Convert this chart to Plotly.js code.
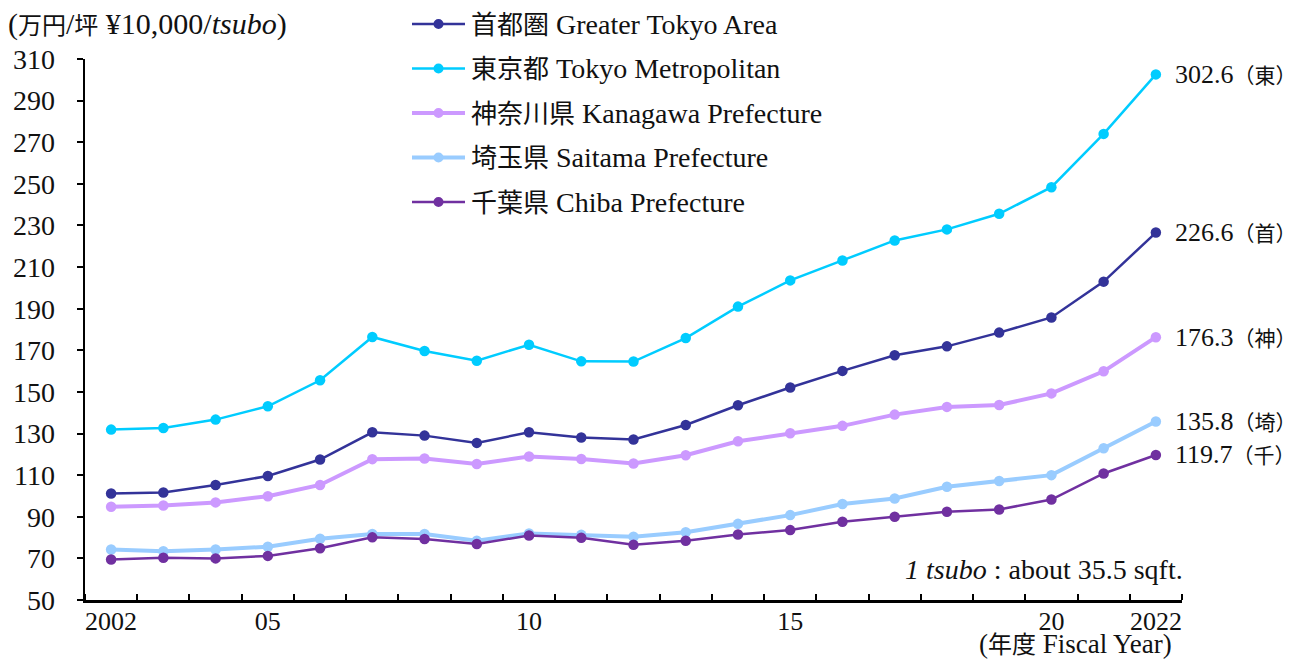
<!DOCTYPE html>
<html>
<head>
<meta charset="utf-8">
<script src="https://cdn.plot.ly/plotly-3.0.1.min.js"></script>
<style>html,body{margin:0;padding:0;background:#fff;}#chart{width:1298px;height:661px;}</style>
</head>
<body>
<div id="chart"></div>
<script>
const years = [2002,2003,2004,2005,2006,2007,2008,2009,2010,2011,2012,2013,2014,2015,2016,2017,2018,2019,2020,2021,2022];
const greaterTokyo = [101.2,101.7,105.3,109.6,117.5,130.6,129.0,125.5,130.6,128.1,127.1,134.1,143.6,152.1,160.1,167.6,171.9,178.5,185.8,203.0,226.6];
const tokyoMetro = [131.9,132.7,136.7,143.1,155.6,176.4,169.7,165.0,172.7,164.7,164.6,175.9,191.0,203.6,213.2,222.8,228.1,235.6,248.4,274.0,302.6];
const kanagawa = [94.8,95.4,96.9,99.9,105.3,117.7,118.0,115.4,119.0,117.8,115.6,119.6,126.3,130.1,133.7,139.1,142.8,143.7,149.3,159.9,176.3];
const saitama = [74.3,73.4,74.3,75.6,79.4,81.7,81.7,78.5,82.0,81.3,80.4,82.6,86.6,90.8,96.1,98.8,104.4,107.2,110.0,122.9,135.8];
const chiba = [69.5,70.3,70.0,71.2,74.9,80.1,79.3,76.9,81.0,79.9,76.5,78.5,81.5,83.6,87.6,90.0,92.4,93.5,98.3,110.8,119.7];

const seriesJa = ['首都圏','東京都','神奈川県','埼玉県','千葉県'];
const seriesEn = ['Greater Tokyo Area','Tokyo Metropolitan','Kanagawa Prefecture','Saitama Prefecture','Chiba Prefecture'];
const endTags = ['（首）','（東）','（神）','（埼）','（千）'];
const xTickVals = [2002,2005,2010,2015,2020,2022];
const xTickText = ['2002','05','10','15','20','2022'];

const FONT = '"Liberation Serif", "Noto Sans CJK JP", serif';
const TXT = '#111';
const cjk = (s, px) => '<span style="font-size:' + px + 'px">' + s + '</span>';
const seriesData = [greaterTokyo, tokyoMetro, kanagawa, saitama, chiba];
const colors = ['#333399','#00CCFF','#CC99FF','#99CCFF','#7030A0'];
const widths = [2.5,2.5,4,4,2.5];

// plot area geometry (pixels) for placing the manual legend
const M = {l:85, r:116, t:59, b:61};
const PW = 1298 - M.l - M.r, PH = 661 - M.t - M.b;
const px2x = p => (p - M.l) / PW;
const py2y = p => (661 - M.b - p) / PH;

const traces = seriesData.map((ys,i)=>({
  type:'scatter', mode:'lines+markers', x:years, y:ys,
  name: seriesJa[i] + ' ' + seriesEn[i],
  line:{color:colors[i], width:widths[i]},
  marker:{color:colors[i], size:10.5},
  hoverinfo:'skip', showlegend:false
}));

const annotations = seriesData.map((ys,i)=>({
  x: years[years.length-1], y: ys[ys.length-1], xref:'x', yref:'y',
  text: ys[ys.length-1].toFixed(1) + cjk(endTags[i], 21),
  showarrow:false, xanchor:'left', yanchor:'middle', xshift:17,
  font:{family:FONT, size:26, color:TXT}
}));

const shapes = [];
seriesData.forEach((ys,i)=>{
  const cy = 24 + 44.5*i;
  shapes.push({type:'line', xref:'paper', yref:'paper', x0:px2x(412), x1:px2x(465), y0:py2y(cy), y1:py2y(cy),
    line:{color:colors[i], width:widths[i]}});
  shapes.push({type:'circle', xref:'paper', yref:'paper', xsizemode:'pixel', ysizemode:'pixel',
    xanchor:px2x(438.5), yanchor:py2y(cy), x0:-5, x1:5, y0:-5, y1:5,
    fillcolor:colors[i], line:{width:0}});
  annotations.push({xref:'paper', yref:'paper', x:px2x(469), y:py2y(cy), xanchor:'left', yanchor:'middle',
    text: cjk(seriesJa[i], 26) + ' ' + seriesEn[i], showarrow:false,
    font:{family:FONT, size:28, color:TXT}});
});

annotations.push({
  xref:'paper', yref:'paper', x:px2x(6), y:py2y(24), xanchor:'left', yanchor:'middle',
  text:'(' + cjk('万円', 24) + '/' + cjk('坪', 24) + ' ¥10,000/<i>tsubo</i>)', showarrow:false,
  font:{family:FONT, size:30, color:TXT}
});
annotations.push({
  xref:'paper', yref:'paper', x:px2x(1185), y:py2y(569), xanchor:'right', yanchor:'middle',
  text:'<i>1 tsubo</i> : about 35.5 sqft.', showarrow:false,
  font:{family:FONT, size:28, color:TXT}
});
annotations.push({
  xref:'paper', yref:'paper', x:px2x(1174), y:py2y(661), xanchor:'right', yanchor:'bottom',
  text:'(' + cjk('年度', 24) + ' Fiscal Year)', showarrow:false,
  font:{family:FONT, size:27, color:TXT}
});

const layout = {
  width:1298, height:661,
  margin:M,
  paper_bgcolor:'#fff', plot_bgcolor:'#fff',
  font:{family:FONT, size:27, color:TXT},
  showlegend:false,
  xaxis:{
    range:[2001.5,2022.5], showgrid:false, zeroline:false,
    showline:true, linecolor:'#000', linewidth:2.5,
    tickmode:'array', tickvals:xTickVals, ticktext:xTickText,
    ticks:'', ticklen:0, tickangle:0, ticklabelstandoff:-4,
    minor:{tick0:2001.5, dtick:1, ticks:'inside', ticklen:6, tickwidth:2, tickcolor:'#000', showgrid:false},
    tickfont:{family:FONT, size:26, color:TXT}
  },
  yaxis:{
    range:[50,310], tick0:50, dtick:20, showgrid:false, zeroline:false,
    showline:true, linecolor:'#000', linewidth:2.5,
    ticks:'outside', ticklen:6, tickwidth:2, tickcolor:'#000',
    ticklabelstandoff:16,
    tickfont:{family:FONT, size:28, color:TXT}
  },
  shapes:shapes,
  annotations:annotations,
  hovermode:false
};

Plotly.newPlot('chart', traces, layout, {displayModeBar:false, staticPlot:true});
</script>
</body>
</html>
